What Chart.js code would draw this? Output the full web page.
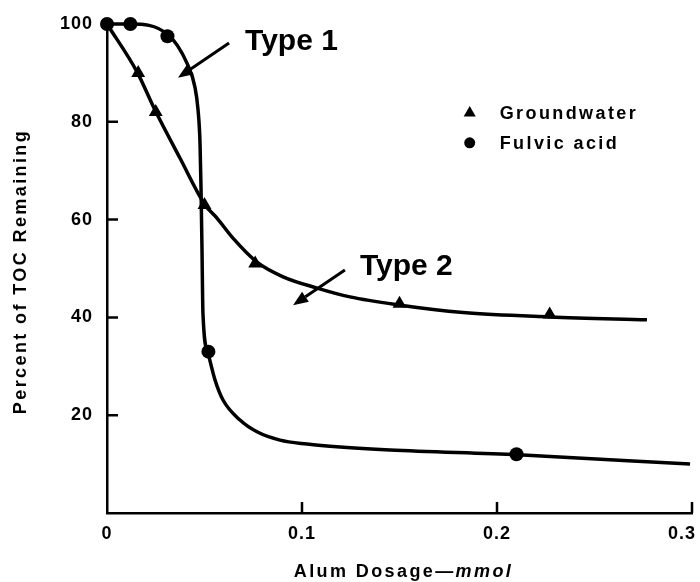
<!DOCTYPE html>
<html lang="en">
<head>
<meta charset="UTF-8">
<title>TOC Remaining vs Alum Dosage</title>
<script src="https://cdn.jsdelivr.net/npm/chart.js"></script>
<style>
  html, body { margin: 0; padding: 0; background: #fff; }
</style>
</head>
<body>
<canvas id="tocChart" width="700" height="582"></canvas>
<script>
// Measured points (alum dose in mmol, % TOC remaining)
const groundwaterDose = [0.016, 0.025, 0.05, 0.076, 0.15, 0.227];
const groundwaterToc  = [90, 82, 63, 51, 42.8, 40.6];
const fulvicDose = [0, 0.012, 0.031, 0.052, 0.21];
const fulvicToc  = [100, 100, 97.5, 33, 12];

// Hand-drawn trend curves through the points
const groundwaterFitDose = [0, 0.0154, 0.0246, 0.0374, 0.0503, 0.0564, 0.0646, 0.0769, 0.0903, 0.1077, 0.1246, 0.1487, 0.1826, 0.2272, 0.2769];
const groundwaterFitToc  = [100, 90.2, 82.4, 72.6, 63.0, 60.3, 56.2, 51.3, 48.3, 46.0, 44.2, 42.6, 41.0, 40.1, 39.5];
const fulvicFitDose = [0, 0.0118, 0.0313, 0.041, 0.0451, 0.0467, 0.0477, 0.0482, 0.0487, 0.0492, 0.0518, 0.0554, 0.0595, 0.0682, 0.0769, 0.0887, 0.1026, 0.1195, 0.1451, 0.2108, 0.299];
const fulvicFitToc  = [100, 100, 97.8, 92.0, 87.1, 82.4, 75.7, 66.7, 54.4, 40.9, 32.7, 27.2, 23.1, 19.0, 16.6, 14.9, 14.1, 13.5, 12.9, 11.9, 10.0];

const xTicks = [0, 0.1, 0.2, 0.3];
const xTickLabels = ['0', '0.1', '0.2', '0.3'];
const yTicks = [20, 40, 60, 80, 100];

const xTitle = ['Alum Dosage\u2014', 'mmol'];
const yTitle = 'Percent of TOC Remaining';

const FONT = '"Liberation Sans", Arial, Helvetica, sans-serif';

function pairs(xs, ys) {
  return xs.map((x, i) => ({ x: x, y: ys[i] }));
}

// arrows with labels, placed in data units
const callouts = [
  { text: 'Type 1', at: [0.0708, 94.7], from: [0.0626, 96.1], to: [0.0364, 89.0] },
  { text: 'Type 2', at: [0.1297, 48.7], from: [0.122, 49.7], to: [0.0954, 42.5] }
];
const legendAt = { x: 0.186, y: 81.8, rowGap: 6.1 };

function spacing(ctx, px) {
  if ('letterSpacing' in ctx) ctx.letterSpacing = px + 'px';
}

// slightly open tracking for the tick numbers
const textSpacing = {
  id: 'textSpacing',
  beforeLayout(chart) { spacing(chart.ctx, 1); },
  beforeDraw(chart) { spacing(chart.ctx, 1); }
};

function drawMarker(ctx, style, x, y, r) {
  ctx.beginPath();
  if (style === 'triangle') {
    ctx.moveTo(x, y - r);
    ctx.lineTo(x + r * 0.866, y + r * 0.5);
    ctx.lineTo(x - r * 0.866, y + r * 0.5);
    ctx.closePath();
  } else {
    ctx.arc(x, y, r, 0, Math.PI * 2);
  }
  ctx.fill();
}

const decorations = {
  id: 'decorations',
  afterDraw(chart) {
    const { ctx, chartArea, width } = chart;
    const xs = chart.scales.x, ys = chart.scales.y;
    ctx.save();
    ctx.strokeStyle = '#000';
    ctx.fillStyle = '#000';

    // inward tick marks
    ctx.lineWidth = 2.5;
    ctx.beginPath();
    xTicks.slice(1).forEach(v => {
      const px = xs.getPixelForValue(v);
      ctx.moveTo(px, chartArea.bottom);
      ctx.lineTo(px, chartArea.bottom - 11);
    });
    yTicks.slice(0, -1).forEach(v => {
      const py = ys.getPixelForValue(v);
      ctx.moveTo(chartArea.left, py);
      ctx.lineTo(chartArea.left + 11, py);
    });
    ctx.stroke();

    // x tick labels, the last one kept inside the canvas
    spacing(ctx, 1);
    ctx.font = 'bold 18px ' + FONT;
    ctx.textAlign = 'center';
    ctx.textBaseline = 'middle';
    xTicks.forEach((v, i) => {
      const w = ctx.measureText(xTickLabels[i]).width;
      const cx = Math.min(xs.getPixelForValue(v), width - 4 - w / 2);
      ctx.fillText(xTickLabels[i], cx, chartArea.bottom + 21);
    });

    // axis titles
    spacing(ctx, 2.4);
    ctx.textAlign = 'left';
    ctx.font = 'bold 18px ' + FONT;
    const w1 = ctx.measureText(xTitle[0]).width;
    ctx.font = 'italic bold 18px ' + FONT;
    const w2 = ctx.measureText(xTitle[1]).width;
    const tx = (chartArea.left + chartArea.right) / 2 + 4 - (w1 + w2) / 2;
    const ty = xs.bottom - 10;
    ctx.font = 'bold 18px ' + FONT;
    ctx.fillText(xTitle[0], tx, ty);
    ctx.font = 'italic bold 18px ' + FONT;
    ctx.fillText(xTitle[1], tx + w1, ty);

    ctx.save();
    ctx.translate(21, (chartArea.top + chartArea.bottom) / 2 + 3);
    ctx.rotate(-Math.PI / 2);
    ctx.textAlign = 'center';
    ctx.font = 'bold 18px ' + FONT;
    ctx.fillText(yTitle, 0, 0);
    ctx.restore();

    // legend inside the plot
    const markerSets = chart.data.datasets.filter(d => d.isMarker);
    markerSets.forEach((d, i) => {
      const lx = xs.getPixelForValue(legendAt.x);
      const ly = ys.getPixelForValue(legendAt.y - i * legendAt.rowGap);
      drawMarker(ctx, d.pointStyle, lx, ly, d.pointStyle === 'triangle' ? 7 : 5.5);
      ctx.font = 'bold 18px ' + FONT;
      ctx.textAlign = 'left';
      ctx.textBaseline = 'middle';
      ctx.fillText(d.label, lx + 30, ly + 1);
    });

    // callout arrows
    spacing(ctx, 0);
    callouts.forEach(c => {
      const x1 = xs.getPixelForValue(c.from[0]), y1 = ys.getPixelForValue(c.from[1]);
      const x2 = xs.getPixelForValue(c.to[0]), y2 = ys.getPixelForValue(c.to[1]);
      const ang = Math.atan2(y2 - y1, x2 - x1);
      const head = 15, half = 6;
      const bx = x2 - Math.cos(ang) * head, by = y2 - Math.sin(ang) * head;
      ctx.lineWidth = 3;
      ctx.beginPath();
      ctx.moveTo(x1, y1);
      ctx.lineTo(bx, by);
      ctx.stroke();
      ctx.beginPath();
      ctx.moveTo(x2, y2);
      ctx.lineTo(bx + Math.sin(ang) * half, by - Math.cos(ang) * half);
      ctx.lineTo(bx - Math.sin(ang) * half, by + Math.cos(ang) * half);
      ctx.closePath();
      ctx.fill();

      ctx.font = 'bold 30px ' + FONT;
      ctx.textBaseline = 'alphabetic';
      ctx.textAlign = 'left';
      ctx.fillText(c.text, xs.getPixelForValue(c.at[0]), ys.getPixelForValue(c.at[1]));
    });
    ctx.restore();
  }
};

const curveStyle = {
  showLine: true,
  borderColor: '#000',
  borderWidth: 3.5,
  pointRadius: 0,
  pointHoverRadius: 0,
  cubicInterpolationMode: 'monotone',
  clip: false,
  order: 2
};

const ctx = document.getElementById('tocChart').getContext('2d');
new Chart(ctx, {
  type: 'scatter',
  data: {
    datasets: [
      Object.assign({ label: 'Groundwater curve', data: pairs(groundwaterFitDose, groundwaterFitToc) }, curveStyle),
      Object.assign({ label: 'Fulvic acid curve', data: pairs(fulvicFitDose, fulvicFitToc) }, curveStyle),
      {
        label: 'Groundwater',
        isMarker: true,
        data: pairs(groundwaterDose, groundwaterToc),
        pointStyle: 'triangle',
        pointRadius: 8,
        backgroundColor: '#000',
        borderColor: '#000',
        borderWidth: 0,
        clip: false,
        order: 1
      },
      {
        label: 'Fulvic acid',
        isMarker: true,
        data: pairs(fulvicDose, fulvicToc),
        pointStyle: 'circle',
        pointRadius: 7,
        backgroundColor: '#000',
        borderColor: '#000',
        borderWidth: 0,
        clip: false,
        order: 1
      }
    ]
  },
  options: {
    responsive: false,
    animation: false,
    events: [],
    layout: { padding: { top: 24, right: 8, left: 0, bottom: 0 } },
    plugins: {
      legend: { display: false },
      tooltip: { enabled: false }
    },
    scales: {
      x: {
        type: 'linear',
        min: 0,
        max: 0.3,
        afterBuildTicks: s => { s.ticks = xTicks.map(v => ({ value: v })); },
        afterFit: s => { s.height = 69; s.paddingLeft = 0; s.paddingRight = 0; },
        grid: { display: false },
        border: { display: true, color: '#000', width: 2.5 },
        ticks: { display: false },
        title: { display: false }
      },
      y: {
        type: 'linear',
        min: 0,
        max: 100,
        afterBuildTicks: s => { s.ticks = yTicks.map(v => ({ value: v })); },
        afterFit: s => { s.width = 107; s.paddingTop = 0; s.paddingBottom = 0; },
        grid: { display: false, drawTicks: false },
        border: { display: true, color: '#000', width: 2.5 },
        ticks: {
          padding: 14,
          color: '#000',
          font: { family: FONT, size: 18, weight: 'bold' }
        },
        title: { display: false }
      }
    }
  },
  plugins: [textSpacing, decorations]
});
</script>
</body>
</html>
